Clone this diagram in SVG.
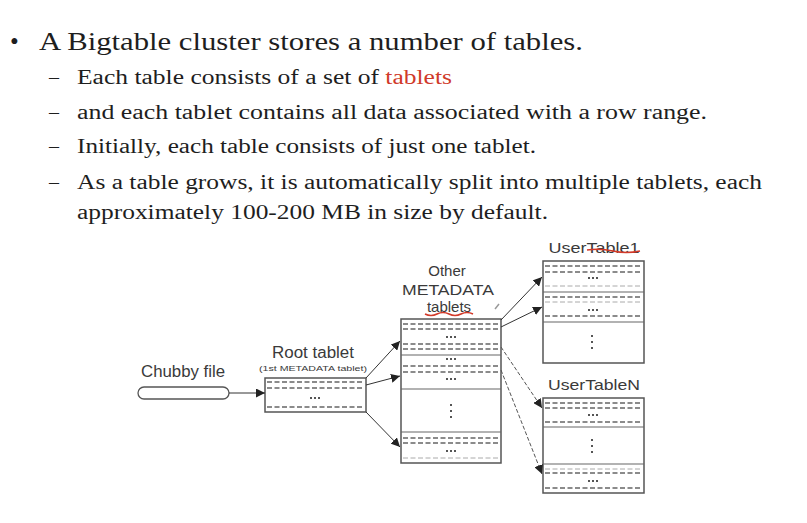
<svg xmlns="http://www.w3.org/2000/svg" width="807" height="523" viewBox="0 0 807 523">
<style>
.t{font-family:"Liberation Serif",serif;fill:#1e1e1e}
.s{font-family:"Liberation Sans",Arial,sans-serif;fill:#3a3a3a}
.box{fill:#fff;stroke:#555;stroke-width:1.5}
.sol{stroke:#666;stroke-width:1.2}
.d{stroke:#666;stroke-width:1.3;stroke-dasharray:5 2.5}
.dl{stroke:#aaa;stroke-width:1;stroke-dasharray:5 2.5}
.ar{stroke:#333;stroke-width:1;fill:none;marker-end:url(#ah)}
.ard{stroke:#555;stroke-width:1;fill:none;stroke-dasharray:4 2;marker-end:url(#ah)}
.red{stroke:#d23a2a;stroke-width:1.6;fill:none}
</style>
<defs>
<marker id="ah" viewBox="0 0 10 10" refX="10" refY="5" markerWidth="9" markerHeight="9" markerUnits="userSpaceOnUse" orient="auto">
<path d="M0,0 L10,5 L0,10 z" fill="#222"/>
</marker>
<g id="h3" fill="#555"><rect x="-5" y="-1" width="2" height="2"/><rect x="-1" y="-1" width="2" height="2"/><rect x="3" y="-1" width="2" height="2"/></g>
<g id="v3" fill="#555"><rect x="-1" y="-7" width="2" height="2"/><rect x="-1" y="-1" width="2" height="2"/><rect x="-1" y="5" width="2" height="2"/></g>
</defs>
<rect width="807" height="523" fill="#fff"/>
<g id="text">
<text class="t" x="10" y="50" font-size="25">•</text>
<text class="t" x="39" y="50" font-size="25" textLength="544" lengthAdjust="spacingAndGlyphs">A Bigtable cluster stores a number of tables.</text>
<text class="t" x="49" y="84" font-size="20">–</text>
<text class="t" x="77" y="84" font-size="20" textLength="375" lengthAdjust="spacingAndGlyphs">Each table consists of a set of <tspan fill="#d03a2a">tablets</tspan></text>
<text class="t" x="49" y="119" font-size="20">–</text>
<text class="t" x="77" y="119" font-size="20" textLength="630" lengthAdjust="spacingAndGlyphs">and each tablet contains all data associated with a row range.</text>
<text class="t" x="49" y="153" font-size="20">–</text>
<text class="t" x="77" y="153" font-size="20" textLength="459" lengthAdjust="spacingAndGlyphs">Initially, each table consists of just one tablet.</text>
<text class="t" x="49" y="189" font-size="20">–</text>
<text class="t" x="77" y="189" font-size="20" textLength="685" lengthAdjust="spacingAndGlyphs">As a table grows, it is automatically split into multiple tablets, each</text>
<text class="t" x="77" y="219" font-size="20" textLength="471" lengthAdjust="spacingAndGlyphs">approximately 100-200 MB in size by default.</text>
</g>
<g id="chubby">
<text class="s" x="183" y="377" font-size="16" text-anchor="middle" textLength="84" lengthAdjust="spacingAndGlyphs">Chubby file</text>
<rect x="138" y="387" width="91" height="12" rx="6" fill="#fff" stroke="#555" stroke-width="1.3"/>
</g>
<g id="root">
<text class="s" x="313" y="358" font-size="16" text-anchor="middle" textLength="82" lengthAdjust="spacingAndGlyphs">Root tablet</text>
<text class="s" x="313" y="371" font-size="8" text-anchor="middle" textLength="108" lengthAdjust="spacingAndGlyphs">(1st METADATA tablet)</text>
<rect class="box" x="265" y="378" width="101" height="34"/>
<line class="d" x1="267" y1="382" x2="364" y2="382"/>
<line class="d" x1="267" y1="388" x2="364" y2="388"/>
<use href="#h3" x="315" y="398"/>
<line class="d" x1="267" y1="407" x2="364" y2="407"/>
</g>
<g id="metadata">
<text class="s" x="447" y="276" font-size="15" text-anchor="middle">Other</text>
<text class="s" x="448" y="295" font-size="15" text-anchor="middle" textLength="92" lengthAdjust="spacingAndGlyphs">METADATA</text>
<text class="s" x="449" y="312" font-size="15" text-anchor="middle">tablets</text>
<path class="red" d="M425,314 q6,3 12,0 t12,0 t12,0 t12,0"/>
<path d="M495,309 l4,-5" stroke="#999" stroke-width="1.5"/>
<rect class="box" x="401" y="319" width="100" height="144"/>
<line class="d" x1="403" y1="324" x2="499" y2="324"/>
<line class="d" x1="403" y1="329" x2="499" y2="329"/>
<use href="#h3" x="451" y="337"/>
<line class="d" x1="403" y1="344" x2="499" y2="344"/>
<line class="d" x1="403" y1="349" x2="499" y2="349"/>
<line class="sol" x1="401" y1="355" x2="501" y2="355"/>
<use href="#h3" x="451" y="359"/>
<line class="d" x1="403" y1="366" x2="499" y2="366"/>
<line class="d" x1="403" y1="372" x2="499" y2="372"/>
<use href="#h3" x="451" y="379"/>
<line class="sol" x1="401" y1="389" x2="501" y2="389"/>
<use href="#v3" x="451" y="411"/>
<line class="sol" x1="401" y1="432" x2="501" y2="432"/>
<line class="d" x1="403" y1="438" x2="499" y2="438"/>
<line class="d" x1="403" y1="443" x2="499" y2="443"/>
<use href="#h3" x="451" y="451"/>
<line class="dl" x1="403" y1="458" x2="499" y2="458"/>
</g>
<g id="usertable1">
<text class="s" x="594" y="253" font-size="15" text-anchor="middle" textLength="91" lengthAdjust="spacingAndGlyphs">UserTable1</text>
<path class="red" d="M587,250 q13,-2 26,1 t27,0"/>
<rect class="box" x="543" y="261" width="101" height="102"/>
<line class="d" x1="545" y1="266" x2="642" y2="266"/>
<line class="d" x1="545" y1="272" x2="642" y2="272"/>
<use href="#h3" x="593" y="278"/>
<line class="dl" x1="545" y1="286" x2="642" y2="286"/>
<line class="sol" x1="543" y1="292" x2="644" y2="292"/>
<line class="d" x1="545" y1="297" x2="642" y2="297"/>
<line class="dl" x1="545" y1="302" x2="642" y2="302"/>
<use href="#h3" x="593" y="310"/>
<line class="d" x1="545" y1="316" x2="642" y2="316"/>
<line class="sol" x1="543" y1="322" x2="644" y2="322"/>
<use href="#v3" x="592" y="342"/>
</g>
<g id="usertableN">
<text class="s" x="594" y="390" font-size="15" text-anchor="middle" textLength="92" lengthAdjust="spacingAndGlyphs">UserTableN</text>
<rect class="box" x="543" y="398" width="101" height="95"/>
<line class="d" x1="545" y1="403" x2="642" y2="403"/>
<line class="d" x1="545" y1="408" x2="642" y2="408"/>
<use href="#h3" x="593" y="415"/>
<line class="d" x1="545" y1="422" x2="642" y2="422"/>
<line class="sol" x1="543" y1="427" x2="644" y2="427"/>
<use href="#v3" x="592" y="446"/>
<line class="sol" x1="543" y1="464" x2="644" y2="464"/>
<line class="dl" x1="545" y1="469" x2="642" y2="469"/>
<line class="d" x1="545" y1="473" x2="642" y2="473"/>
<use href="#h3" x="593" y="481"/>
<line class="d" x1="545" y1="488" x2="642" y2="488"/>
</g>
<g id="connectors">
<line class="ar" x1="229" y1="393" x2="265" y2="393" stroke-width="1.4"/>
<line class="ar" x1="366" y1="378" x2="400" y2="341"/>
<line class="ar" x1="366" y1="385" x2="400" y2="376"/>
<line class="ar" x1="366" y1="412" x2="400" y2="447"/>
<line class="ar" x1="501" y1="320" x2="542" y2="277"/>
<line class="ar" x1="501" y1="327" x2="542" y2="307"/>
<line class="ard" x1="501" y1="347" x2="542" y2="408"/>
<line class="ard" x1="501" y1="370" x2="542" y2="474"/>
</g>
</svg>
